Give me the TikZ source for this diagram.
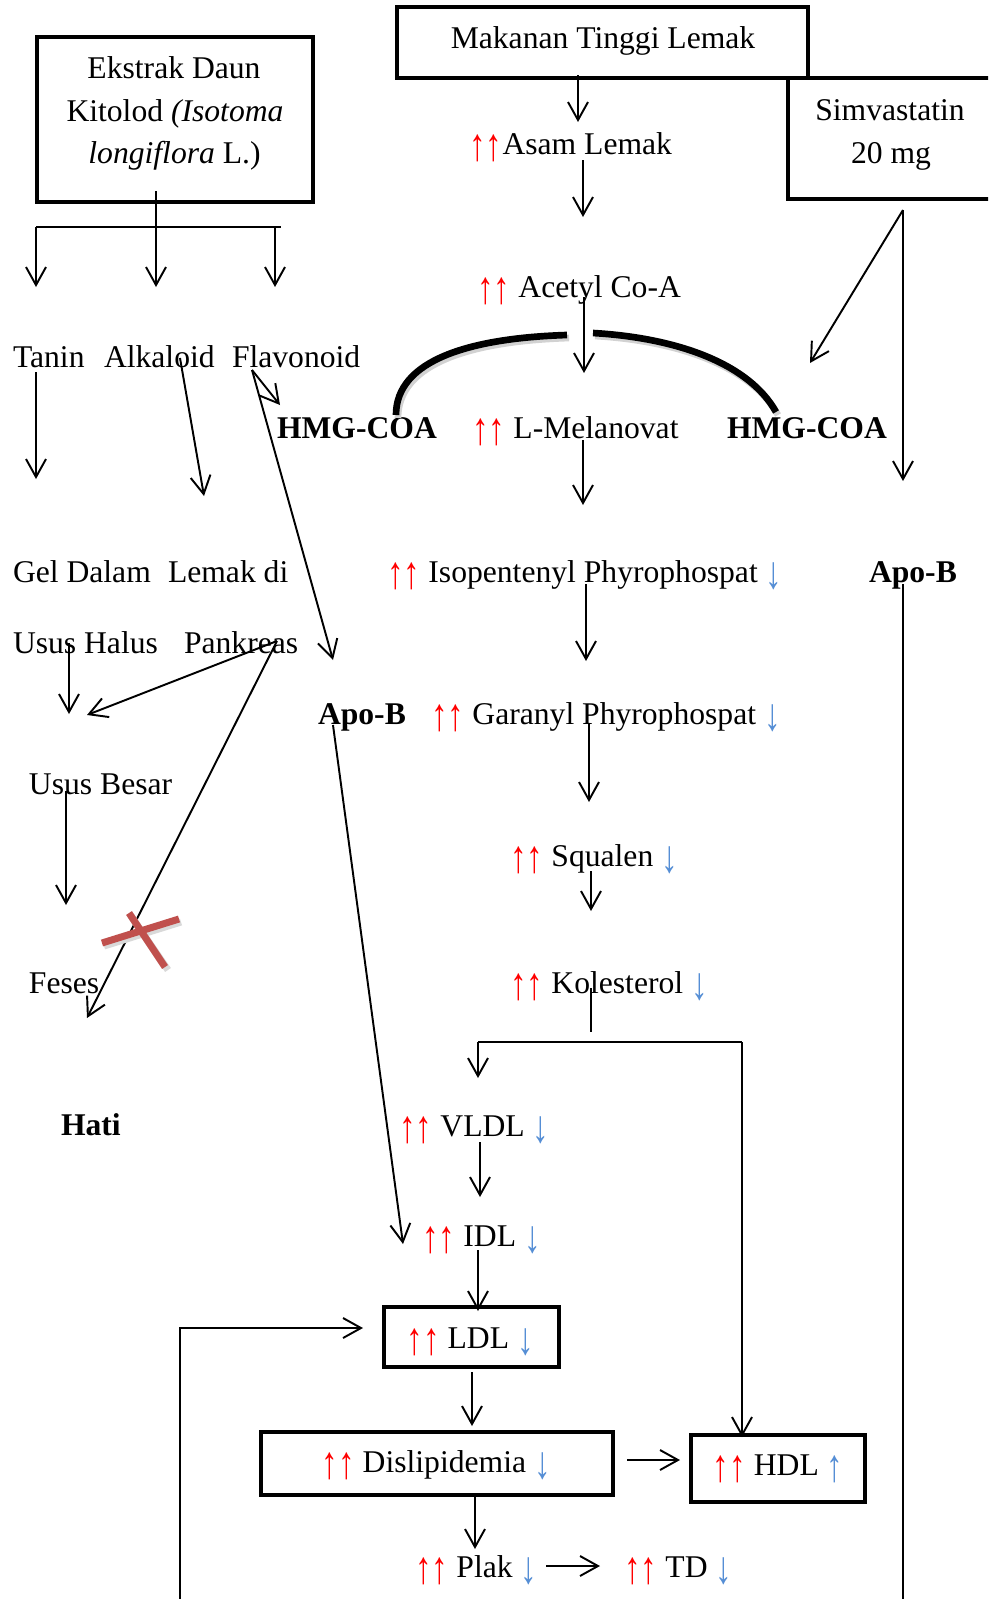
\documentclass[tikz,border=0pt]{standalone}
\usepackage{fontspec}
\usepackage{graphicx}
\setmainfont{Liberation Serif}
\usetikzlibrary{arrows.meta}
\definecolor{upred}{RGB}{255,0,0}
\definecolor{dnblue}{RGB}{85,142,213}
\definecolor{xred}{RGB}{192,80,77}
\newcommand{\tallup}{\makebox[0.53em]{\raisebox{-0.2em}{\scalebox{1.05}[1.45]{↑}}}}
\newcommand{\talldown}{\makebox[0.53em]{\raisebox{-0.2em}{\scalebox{1.05}[1.45]{↓}}}}
\newcommand{\redup}{\textcolor{upred}{\tallup\tallup}}
\newcommand{\bluedown}{\textcolor{dnblue}{\talldown}}
\newcommand{\blueup}{\textcolor{dnblue}{\tallup}}
\begin{document}
\begin{tikzpicture}[x=0.02cm,y=-0.02cm,
  txt/.style={font=\fontsize{18}{22}\selectfont, inner sep=0pt, outer sep=0pt},
  boldtxt/.style={font=\fontsize{18}{22}\selectfont\bfseries, inner sep=0pt, outer sep=0pt},
  box/.style={draw, line width=2.4pt, inner sep=0pt, outer sep=0pt},
  con/.style={line width=1.1pt, -{Straight Barb[length=0.36cm,width=0.4cm,line width=1.1pt]}},
  ln/.style={line width=1.1pt},
  arcline/.style={line width=3.8pt},
  arcshadow/.style={line width=3.8pt, gray!35},
  cross/.style={line width=0.14cm, xred},
  crossshadow/.style={line width=0.14cm, gray!30}]
\useasboundingbox (0,0) rectangle (988,1599);
\fill[white] (0,0) rectangle (988,1599);
\clip (0,0) rectangle (988,1599);

% ---------- boxes ----------
\node[box, minimum width=5.52cm, minimum height=3.3cm] (ekstrak) at (175,119.5) {};
\node[txt, anchor=base] (ek1) at (174,78) {Ekstrak Daun};
\node[txt, anchor=base] (ek2) at (175,121) {Kitolod \textit{(Isotoma}};
\node[txt, anchor=base] (ek3) at (174.5,163) {\textit{longiflora} L.)};

\node[box, minimum width=8.22cm, minimum height=1.42cm] (makanan) at (602.5,42.5) {};
\node[txt, anchor=base] (makanant) at (603,49) {Makanan Tinggi Lemak};

\node[box, minimum width=4.24cm, minimum height=2.42cm] (simva) at (894,138.5) {};
\node[txt, anchor=base] (simva1) at (890,120) {Simvastatin};
\node[txt, anchor=base] (simva2) at (891,163) {20 mg};

\node[box, minimum width=3.5cm, minimum height=1.2cm] (ldl) at (471.5,1337) {};
\node[txt, anchor=base] (ldlt) at (470,1348) {\redup\ LDL \bluedown};

\node[box, minimum width=7.04cm, minimum height=1.26cm] (dis) at (437,1463.5) {};
\node[txt, anchor=base] (dist) at (436,1472) {\redup\ Dislipidemia \bluedown};

\node[box, minimum width=3.48cm, minimum height=1.34cm] (hdl) at (778,1468.5) {};
\node[txt, anchor=base] (hdlt) at (778,1475) {\redup\ HDL \blueup};

% ---------- texts ----------
\node[txt, anchor=base west] (tanin) at (13,367) {Tanin};
\node[txt, anchor=base west] (alka) at (104,367) {Alkaloid};
\node[txt, anchor=base west] (flavo) at (232,367) {Flavonoid};

\node[txt, anchor=base west] (asam) at (469,154) {\redup Asam Lemak};
\node[txt, anchor=base west] (acetyl) at (477,297) {\redup\ Acetyl Co-A};
\node[boldtxt, anchor=base west] (hmg1) at (277,438) {HMG-COA};
\node[txt, anchor=base west] (melan) at (472,438) {\redup\ L-Melanovat};
\node[boldtxt, anchor=base west] (hmg2) at (727,438) {HMG-COA};

\node[txt, anchor=base west] (gel1) at (13,582) {Gel Dalam};
\node[txt, anchor=base west] (gel2) at (13,653) {Usus Halus};
\node[txt, anchor=base west] (lem1) at (168,582) {Lemak di};
\node[txt, anchor=base west] (lem2) at (184,653) {Pankreas};
\node[txt, anchor=base west] (iso) at (387,582) {\redup\ Isopentenyl Phyrophospat \bluedown};
\node[boldtxt, anchor=base west] (apob2) at (869,582) {Apo-B};

\node[boldtxt, anchor=base west] (apob1) at (318,724) {Apo-B};
\node[txt, anchor=base west] (gara) at (431,724) {\redup\ Garanyl Phyrophospat \bluedown};
\node[txt, anchor=base west] (besar) at (29,794) {Usus Besar};
\node[txt, anchor=base west] (squa) at (510,866) {\redup\ Squalen \bluedown};
\node[txt, anchor=base west] (feses) at (29,993) {Feses};
\node[txt, anchor=base west] (kol) at (510,993) {\redup\ Kolesterol \bluedown};
\node[boldtxt, anchor=base west] (hati) at (61,1135) {Hati};
\node[txt, anchor=base west] (vldl) at (399,1136) {\redup\ VLDL \bluedown};
\node[txt, anchor=base west] (idl) at (422,1246) {\redup\ IDL \bluedown};
\node[txt, anchor=base west] (plak) at (415,1577) {\redup\ Plak \bluedown};
\node[txt, anchor=base west] (td) at (624,1577) {\redup\ TD \bluedown};

% ---------- connector points ----------
\coordinate (eS) at (156,191);
\coordinate (hL) at (36,227);
\coordinate (hR) at (281,227);
\coordinate (hR2) at (275,227);
\coordinate (tTan) at (36,287);
\coordinate (tAlk) at (156,287);
\coordinate (tFla) at (275,287);
\coordinate (sTan) at (36,372);
\coordinate (eTan) at (36,479);
\coordinate (sAlk) at (180,358);
\coordinate (eAlk) at (204,496);
\coordinate (sFla) at (252,370);
\coordinate (eFlaH) at (280,405);
\coordinate (eFlaA) at (333,660);
\coordinate (sUH) at (69,643);
\coordinate (eUH) at (69,714);
\coordinate (sPan) at (277,641);
\coordinate (ePanU) at (87,715);
\coordinate (ePanF) at (87,1018);
\coordinate (sUB) at (66,791);
\coordinate (eUB) at (66,905);
\coordinate (sApo1) at (333,725);
\coordinate (eApo1) at (403,1244);
\coordinate (sMak) at (578,75);
\coordinate (eMak) at (578,122);
\coordinate (sAsam) at (583,160);
\coordinate (eAsam) at (583,217);
\coordinate (sAce) at (584,297);
\coordinate (eAce) at (584,373);
\coordinate (sMel) at (583,440);
\coordinate (eMel) at (583,505);
\coordinate (sSim) at (903,210);
\coordinate (eSimH) at (810,363);
\coordinate (eSimA) at (903,481);
\coordinate (sIso) at (586,584);
\coordinate (eIso) at (586,661);
\coordinate (sApo2) at (903,584);
\coordinate (eApo2) at (903,1599);
\coordinate (sGar) at (589,724);
\coordinate (eGar) at (589,802);
\coordinate (sSqu) at (591,871);
\coordinate (eSqu) at (591,911);
\coordinate (sKol) at (591,988);
\coordinate (eKol) at (591,1032);
\coordinate (bL) at (478,1042);
\coordinate (bR) at (742,1042);
\coordinate (eBL) at (478,1078);
\coordinate (eBR) at (742,1437);
\coordinate (sVl) at (480,1142);
\coordinate (eVl) at (480,1197);
\coordinate (sIdl) at (478,1250);
\coordinate (eIdl) at (478,1311);
\coordinate (fB) at (180,1599);
\coordinate (fC) at (180,1328);
\coordinate (fE) at (363,1328);
\coordinate (sLdl) at (472,1372);
\coordinate (eLdl) at (472,1426);
\coordinate (sDisH) at (627,1460);
\coordinate (eDisH) at (680,1460);
\coordinate (sDisP) at (475,1496);
\coordinate (eDisP) at (475,1549);
\coordinate (sPl) at (546,1566);
\coordinate (ePl) at (600,1566);

% ---------- connectors ----------
\draw[con] (eS) -- (tAlk);
\draw[ln] (hL) -- (hR);
\draw[con] (hL) -- (tTan);
\draw[con] (hR2) -- (tFla);
\draw[con] (sTan) -- (eTan);
\draw[con] (sAlk) -- (eAlk);
\draw[con] (sFla) -- (eFlaH);
\draw[con] (sFla) -- (eFlaA);
\draw[con] (sUH) -- (eUH);
\draw[con] (sPan) -- (ePanU);
\draw[con] (sPan) -- (ePanF);
\draw[con] (sUB) -- (eUB);
\draw[con] (sApo1) -- (eApo1);

\draw[con] (sMak) -- (eMak);
\draw[con] (sAsam) -- (eAsam);
\draw[con] (sAce) -- (eAce);
\draw[con] (sMel) -- (eMel);
\draw[con] (sSim) -- (eSimH);
\draw[con] (sSim) -- (eSimA);
\draw[con] (sIso) -- (eIso);
\draw[ln] (sApo2) -- (eApo2);
\draw[con] (sGar) -- (eGar);
\draw[con] (sSqu) -- (eSqu);
\draw[ln] (sKol) -- (eKol);
\draw[ln] (bL) -- (bR);
\draw[con] (bL) -- (eBL);
\draw[con] (bR) -- (eBR);
\draw[con] (sVl) -- (eVl);
\draw[con] (sIdl) -- (eIdl);
\draw[con] (fB) -- (fC) -- (fE);
\draw[con] (sLdl) -- (eLdl);
\draw[con] (sDisH) -- (eDisH);
\draw[con] (sDisP) -- (eDisP);
\draw[con] (sPl) -- (ePl);

% ---------- HMG-COA arc ----------
\draw[arcshadow] (398,418) .. controls (398,363) and (472,341) .. (569,338);
\draw[arcshadow] (595,336) .. controls (682,341) and (752,368) .. (778,415);
\draw[arcline] (396,415) .. controls (396,360) and (470,338) .. (567,335);
\draw[arcline] (593,333) .. controls (680,338) and (750,365) .. (776,412);

% ---------- red cross ----------
\draw[crossshadow] (104,946) -- (181,922);
\draw[crossshadow] (131,916) -- (168,970);
\draw[cross] (102,943) -- (179,919);
\draw[cross] (129,913) -- (165,967);
\end{tikzpicture}
\end{document}
